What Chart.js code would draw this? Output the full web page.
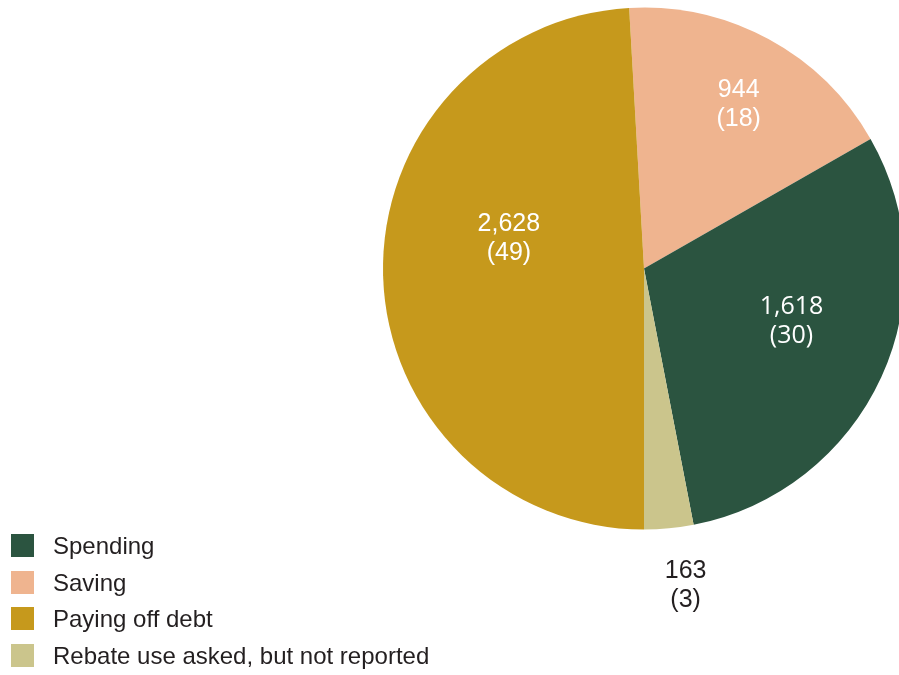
<!DOCTYPE html>
<html lang="en">
<head>
    <meta charset="UTF-8">
    <title>Rebate use</title>
    <script src="https://cdn.jsdelivr.net/npm/chart.js"></script>
    <style>
        html, body { margin: 0; padding: 0; background: #fff; overflow: hidden; }
        body { width: 899px; height: 675px; position: relative; font-family: "Liberation Sans", Arial, sans-serif; }
        #pie { position: absolute; left: 0; top: 0; }
        .legend { position: absolute; left: 11px; top: 534px; }
        .legend-item { position: relative; height: 23px; margin-bottom: 13.7px; }
        .legend-item .box { position: absolute; left: 0; top: 0; width: 23px; height: 23px; }
        .legend-item span { position: absolute; left: 42px; top: -1px; font-size: 24px; line-height: 26px; color: #231f20; white-space: nowrap; }
    </style>
</head>
<body>
    <canvas id="pie" width="1000" height="675"></canvas>
    <div class="legend" id="legend"></div>
    <script>
        // slices, in clockwise order starting from the top
        const categories = ['Saving', 'Spending', 'Rebate use asked, but not reported', 'Paying off debt'];
        const counts = [944, 1618, 163, 2628];
        const shares = [18, 30, 3, 49];
        const colors = ['#efb48f', '#2b5440', '#cbc58c', '#c6991c'];

        // legend order
        const legendOrder = ['Spending', 'Saving', 'Paying off debt', 'Rebate use asked, but not reported'];

        // label placement: angle shift (deg) from the slice middle, distance as fraction of radius
        const labelShift = [1.5, -5, -2, 14];
        const labelDist = [0.726, 0.6, 1.224, 0.53];
        const labelColors = ['#ffffff', '#ffffff', '#231f20', '#ffffff'];
        const labelFonts = ['"Liberation Sans", Arial', '"Open Sans", sans-serif', '"Liberation Sans", Arial', '"Liberation Sans", Arial'];

        // rotate so the edge between "not reported" and "paying off debt" points straight down
        const total = counts.reduce((a, b) => a + b, 0);
        const beforeDebt = counts.slice(0, 3).reduce((a, b) => a + b, 0);
        const startAngle = 180 - 360 * beforeDebt / total;

        const sliceLabels = {
            id: 'sliceLabels',
            afterDatasetsDraw(chart) {
                const ctx = chart.ctx;
                const arcs = chart.getDatasetMeta(0).data;
                ctx.save();
                ctx.textAlign = 'center';
                ctx.textBaseline = 'middle';
                arcs.forEach((arc, i) => {
                    const p = arc.getProps(['x', 'y', 'startAngle', 'endAngle', 'outerRadius'], true);
                    const mid = (p.startAngle + p.endAngle) / 2 + labelShift[i] * Math.PI / 180;
                    const r = p.outerRadius * labelDist[i];
                    const cx = p.x + Math.cos(mid) * r;
                    const cy = p.y + Math.sin(mid) * r;
                    ctx.fillStyle = labelColors[i];
                    ctx.font = '25px ' + labelFonts[i];
                    ctx.fillText(counts[i].toLocaleString('en-US'), cx, cy - 14.5);
                    ctx.fillText('(' + shares[i] + ')', cx, cy + 14.5);
                });
                ctx.restore();
            }
        };

        new Chart(document.getElementById('pie'), {
            type: 'pie',
            data: {
                labels: categories,
                datasets: [{
                    data: counts,
                    backgroundColor: colors,
                    borderWidth: 0
                }]
            },
            options: {
                responsive: false,
                animation: false,
                rotation: startAngle,
                layout: { padding: { left: 382, right: 94, top: 7.5, bottom: 145.5 } },
                plugins: {
                    legend: { display: false },
                    tooltip: { enabled: false }
                }
            },
            plugins: [sliceLabels]
        });

        // legend built from the same categories and colours
        const legend = document.getElementById('legend');
        legendOrder.forEach(name => {
            const i = categories.indexOf(name);
            const row = document.createElement('div');
            row.className = 'legend-item';
            const box = document.createElement('div');
            box.className = 'box';
            box.style.background = colors[i];
            const text = document.createElement('span');
            text.textContent = name;
            row.appendChild(box);
            row.appendChild(text);
            legend.appendChild(row);
        });
    </script>
</body>
</html>
